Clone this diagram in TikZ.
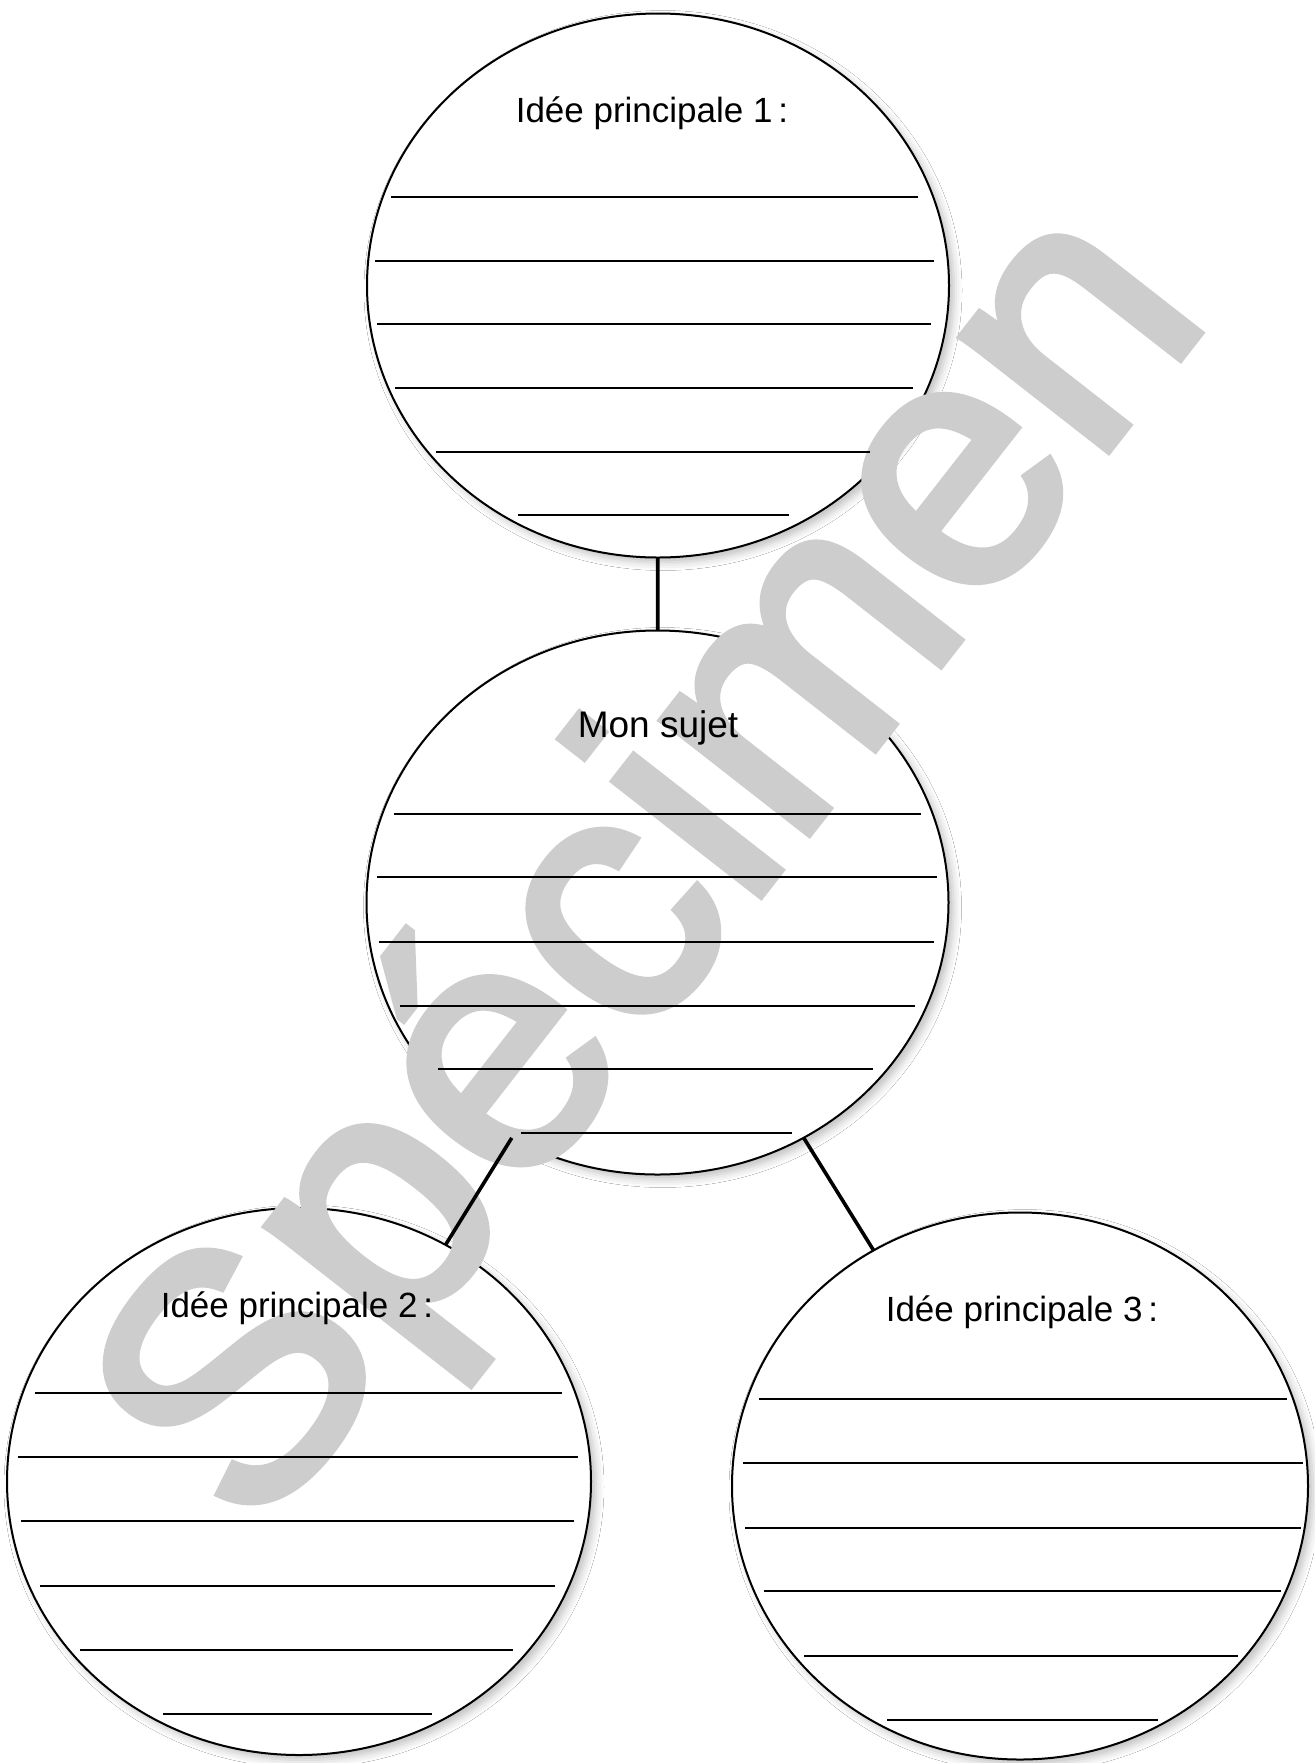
\documentclass[tikz,border=0pt]{standalone}
\usepackage{fontspec}
\setmainfont{Liberation Sans}
\newfontfamily\stampfont[FakeBold=2.5]{Liberation Sans}
\usetikzlibrary{shapes.geometric,shadows.blur}
\definecolor{stampgray}{RGB}{205,205,205}

\begin{document}
\begin{tikzpicture}[
  x=0.5pt, y=-0.5pt,
  bubble/.style={draw, line width=1pt, ellipse, fill=white, inner sep=0pt, outer sep=0pt,
    minimum width=291pt, minimum height=272pt,
    blur shadow={shadow xshift=2.5pt, shadow yshift=-2.5pt, shadow blur radius=4pt, shadow opacity=25}},
  title/.style={anchor=base, inner sep=0pt, font=\fontsize{17.5}{20}\selectfont},
  ruling/.style={line width=0.9pt},
  link/.style={line width=1.8pt},
  stamp/.style={color=stampgray, anchor=base west, inner sep=0pt, font=\stampfont\fontsize{175}{175}\selectfont}
]
\fill[white] (0,0) rectangle (1314,1763);
\useasboundingbox (0,0) rectangle (1314,1763);

\node[bubble] (idea1) at (658,285.5) {};
\node[bubble] (topic) at (657.5,902.5) {};
\node[bubble, minimum width=292pt, minimum height=273.5pt] (idea2) at (299,1481.5) {};
\node[bubble, minimum width=288pt, minimum height=273.5pt] (idea3) at (1020,1486) {};

\node[stamp, rotate=52] (watermark) at (255,1542) {Spécimen};

\draw[link] (idea1) -- (topic);
\draw[link] (topic) -- (idea2);
\draw[link] (topic) -- (idea3);

\node[title] (idea1-title) at (652,122) {Idée principale 1\,:};
\node[title, font=\fontsize{18.5}{22}\selectfont] (topic-title) at (658,737) {Mon sujet};
\node[title] (idea2-title) at (297,1317) {Idée principale 2\,:};
\node[title] (idea3-title) at (1022,1321) {Idée principale 3\,:};

\draw[ruling] (391,197) -- (918,197) (375,261) -- (934,261) (377,324) -- (931,324)
  (395,388) -- (913,388) (436,452) -- (870,452) (518,515) -- (789,515);
\draw[ruling] (394,814) -- (921,814) (377,877) -- (937,877) (379,942) -- (934,942)
  (400,1006) -- (915,1006) (438,1069) -- (873,1069) (521,1133) -- (792,1133);
\draw[ruling] (35,1393) -- (562,1393) (18,1457) -- (578,1457) (21,1521) -- (574,1521)
  (40,1586) -- (555,1586) (80,1650) -- (513,1650) (163,1714) -- (432,1714);
\draw[ruling] (759,1399) -- (1287,1399) (743,1463) -- (1303,1463) (745,1528) -- (1301,1528)
  (764,1591) -- (1281,1591) (804,1656) -- (1238,1656) (887,1720) -- (1158,1720);
\end{tikzpicture}
\end{document}
